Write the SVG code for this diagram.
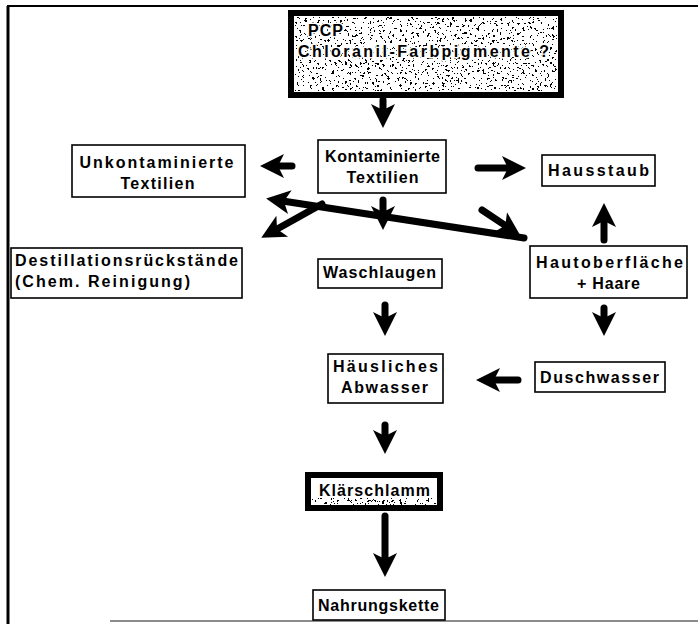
<svg xmlns="http://www.w3.org/2000/svg" width="698" height="624" viewBox="0 0 698 624">
<defs>
<style>
.box{fill:#fff;stroke:#000;stroke-width:1.6}
.thick{fill:#fff;stroke:#000;stroke-width:6}
.t{font-family:"Liberation Sans",Arial,sans-serif;font-weight:bold;font-size:16px;letter-spacing:1px;fill:#000}
.c{text-anchor:middle}
.a{stroke:#000;stroke-width:7;stroke-linecap:round;fill:none;marker-end:url(#ah)}
</style>
<marker id="ah" markerUnits="userSpaceOnUse" markerWidth="26" markerHeight="26" refX="14" refY="12" orient="auto" viewBox="0 0 26 24">
<path d="M0,0 L24,12 L0,24 L6,12 Z" fill="#000"/>
</marker>
<filter id="speck" x="0" y="0" width="100%" height="100%">
<feTurbulence type="fractalNoise" baseFrequency="0.4" numOctaves="3" seed="7" result="n"/>
<feColorMatrix in="n" type="matrix" values="0 0 0 0 0  0 0 0 0 0  0 0 0 0 0  1 0 0 0 0" result="m"/>
<feComponentTransfer in="m" result="th"><feFuncA type="discrete" tableValues="0 0 0 0 0 0 0 0 0 0 0 0 0 1 1 1 1 1 1 1"/></feComponentTransfer>
<feFlood flood-color="#000"/>
<feComposite in2="th" operator="in"/>
</filter>
</defs>
<rect width="698" height="624" fill="#fff"/>
<g id="frame" stroke="#000" fill="none">
<line x1="7" y1="6" x2="698" y2="6" stroke-width="2"/>
<line x1="8" y1="6" x2="8" y2="624" stroke-width="3"/>
<line x1="110" y1="621" x2="698" y2="621" stroke-width="1.5" stroke="#666"/>
</g>
<g id="connectors">
<line class="a" x1="383" y1="100" x2="383" y2="118"/>
<line class="a" x1="292" y1="166" x2="270" y2="166"/>
<line class="a" x1="478" y1="168" x2="516" y2="168"/>
<line class="a" x1="322" y1="204" x2="270" y2="233"/>
<line class="a" x1="383" y1="200" x2="383" y2="220"/>
<line class="a" x1="482" y1="210" x2="512" y2="230"/>
<line class="a" x1="524" y1="238" x2="276" y2="200"/>
<line class="a" x1="604" y1="240" x2="604" y2="213"/>
<line class="a" x1="385" y1="305" x2="385" y2="326"/>
<line class="a" x1="604" y1="308" x2="604" y2="326"/>
<line class="a" x1="518" y1="380" x2="486" y2="380"/>
<line class="a" x1="385" y1="425" x2="385" y2="444"/>
<line class="a" x1="385" y1="516" x2="385" y2="567"/>
</g>
<g id="n-top">
<rect class="thick" x="291" y="13" width="270" height="82"/>
<rect x="295" y="17" width="262" height="74" fill="#000" filter="url(#speck)"/>
<text class="t" x="308" y="36" font-size="17" stroke="#fff" stroke-width="3" paint-order="stroke">PCP</text>
<text class="t" x="298" y="57" font-size="17" textLength="252" stroke="#fff" stroke-width="3" paint-order="stroke">Chloranil-Farbpigmente ?</text>
</g>
<g id="n-kont">
<rect class="box" x="318" y="140" width="128" height="53"/>
<text class="t c" x="383" y="162" textLength="116">Kontaminierte</text>
<text class="t c" x="383" y="183" textLength="73">Textilien</text>
</g>
<g id="n-unkont">
<rect class="box" x="72" y="145" width="173" height="52"/>
<text class="t c" x="157" y="168" textLength="155">Unkontaminierte</text>
<text class="t c" x="158" y="189" textLength="75">Textilien</text>
</g>
<g id="n-haus">
<rect class="box" x="542" y="155" width="113" height="31"/>
<text class="t c" x="599" y="176" textLength="102">Hausstaub</text>
</g>
<g id="n-dest">
<rect class="box" x="11" y="248" width="231" height="50"/>
<text class="t" x="15" y="266" textLength="224">Destillationsrückstände</text>
<text class="t" x="15" y="287" textLength="176">(Chem. Reinigung)</text>
</g>
<g id="n-wasch">
<rect class="box" x="318" y="259" width="124" height="29"/>
<text class="t c" x="380" y="278" textLength="114">Waschlaugen</text>
</g>
<g id="n-haut">
<rect class="box" x="530" y="246" width="157" height="52"/>
<text class="t c" x="610" y="268" textLength="148">Hautoberfläche</text>
<text class="t c" x="609" y="289" textLength="64">+ Haare</text>
</g>
<g id="n-abw">
<rect class="box" x="328" y="354" width="115" height="49"/>
<text class="t c" x="386" y="372" textLength="106">Häusliches</text>
<text class="t c" x="385" y="393" textLength="88">Abwasser</text>
</g>
<g id="n-dusch">
<rect class="box" x="535" y="362" width="130" height="30"/>
<text class="t c" x="600" y="383" textLength="120">Duschwasser</text>
</g>
<g id="n-klaer">
<rect class="thick" x="308" y="475" width="132" height="33"/>
<rect x="312" y="498" width="124" height="7" fill="#000" filter="url(#speck)"/>
<text class="t" x="319" y="496" textLength="112">Klärschlamm</text>
</g>
<g id="n-nahr">
<rect class="box" x="313" y="590" width="132" height="30"/>
<text class="t c" x="379" y="611" textLength="122">Nahrungskette</text>
</g>
</svg>
